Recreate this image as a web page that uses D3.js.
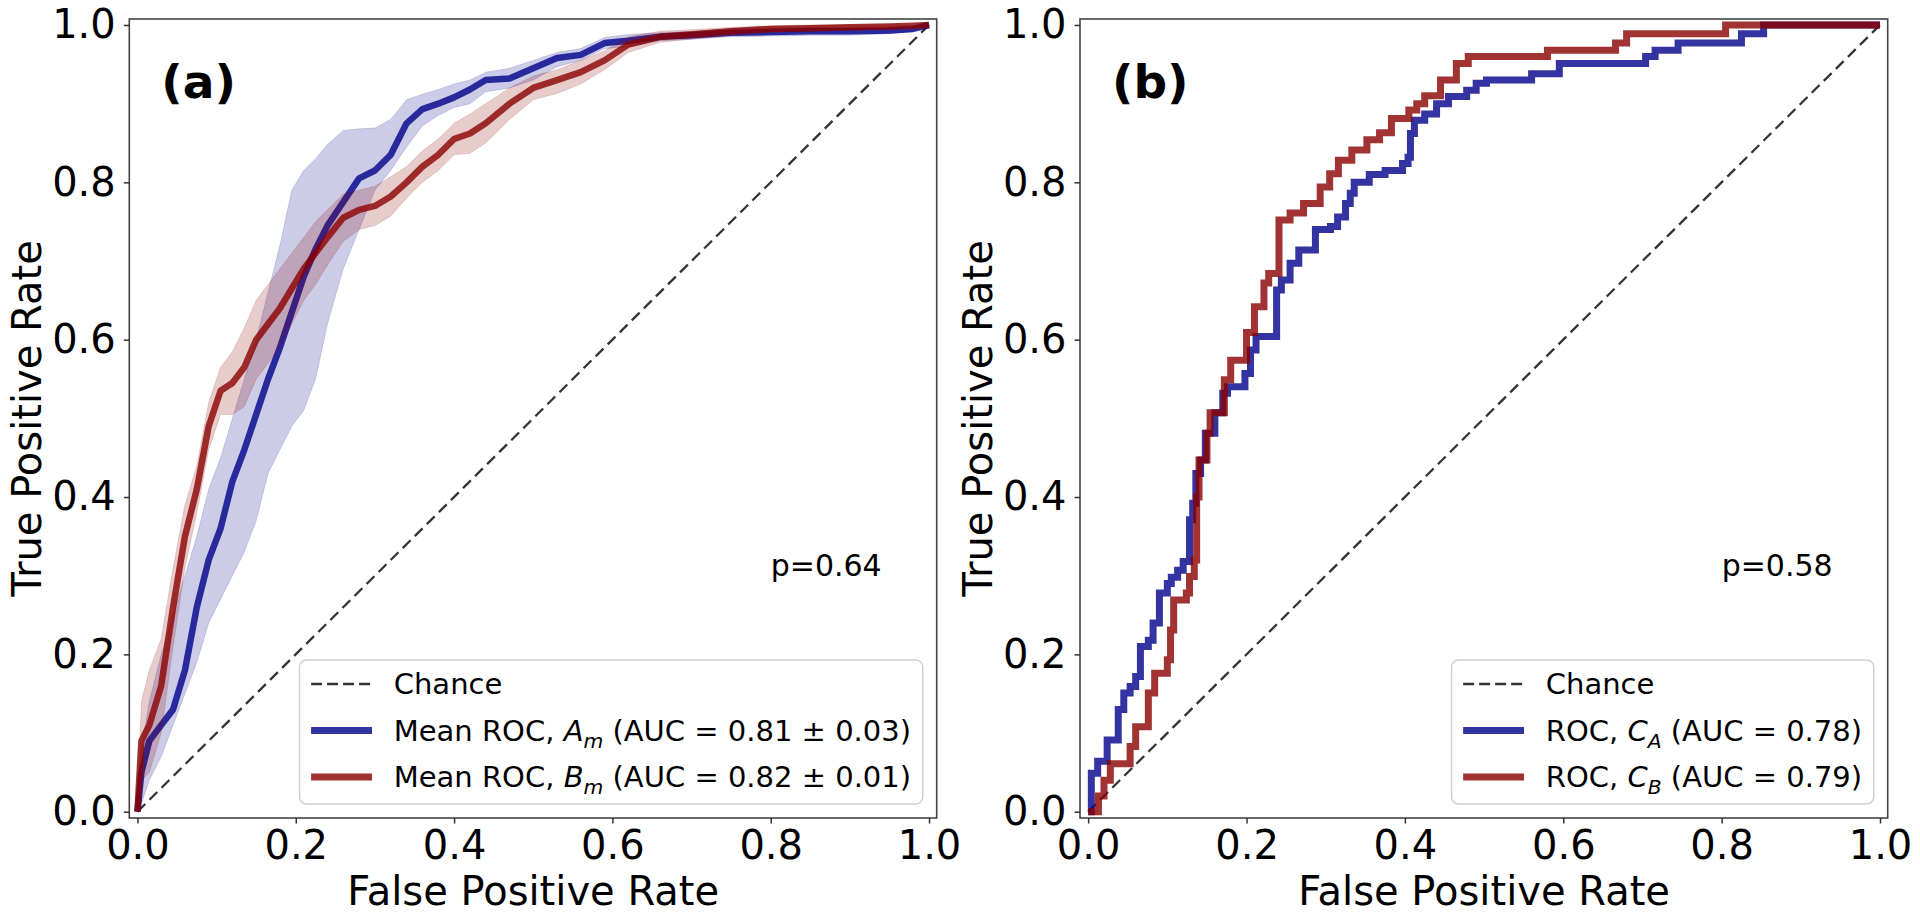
<!DOCTYPE html>
<html><head><meta charset="utf-8">
<script src="https://cdn.jsdelivr.net/npm/d3@7"></script>
<style>
body{margin:0;background:#fff}
svg{display:block}
text{font-family:"DejaVu Sans",sans-serif;fill:#000}
</style>
</head><body>
<svg id="chart" width="1920" height="920"></svg>
<script>
// ---------- data: panel (a), mean ROC curves with ±1 std bands ----------
const fprGrid = [0,0.005,0.015,0.03,0.045,0.06,0.075,0.09,0.105,0.12,0.135,0.15,0.165,0.18,0.195,0.21,0.225,0.24,0.26,0.28,0.3,0.32,0.34,0.36,0.38,0.4,0.42,0.44,0.47,0.5,0.53,0.56,0.59,0.62,0.66,0.7,0.75,0.8,0.85,0.9,0.95,0.98,1.0];
const meanA = [0,0.05,0.09,0.11,0.13,0.18,0.26,0.32,0.36,0.42,0.46,0.505,0.55,0.59,0.635,0.68,0.715,0.745,0.775,0.805,0.815,0.835,0.875,0.893,0.9,0.908,0.918,0.93,0.932,0.945,0.958,0.962,0.977,0.98,0.985,0.987,0.99,0.991,0.992,0.992,0.993,0.995,1.0];
const upperA = [0,0.08,0.14,0.2,0.25,0.30,0.35,0.41,0.45,0.50,0.55,0.60,0.66,0.72,0.79,0.815,0.83,0.848,0.866,0.868,0.869,0.88,0.905,0.912,0.918,0.925,0.93,0.94,0.945,0.955,0.965,0.97,0.984,0.988,0.99,0.992,0.995,0.996,0.997,0.997,0.997,0.998,1.0];
const lowerA = [0,0.01,0.04,0.07,0.11,0.15,0.19,0.24,0.27,0.30,0.33,0.37,0.43,0.46,0.49,0.51,0.55,0.62,0.69,0.74,0.79,0.815,0.845,0.872,0.885,0.895,0.9,0.915,0.92,0.93,0.947,0.955,0.97,0.972,0.98,0.982,0.985,0.986,0.987,0.987,0.989,0.992,1.0];
const meanB = [0,0.09,0.11,0.16,0.26,0.35,0.41,0.49,0.535,0.545,0.565,0.60,0.62,0.64,0.665,0.69,0.71,0.73,0.755,0.765,0.77,0.782,0.80,0.82,0.835,0.855,0.862,0.875,0.9,0.92,0.93,0.94,0.955,0.975,0.985,0.988,0.992,0.995,0.996,0.997,0.998,0.999,1.0];
const upperB = [0,0.14,0.18,0.22,0.31,0.39,0.44,0.52,0.565,0.585,0.615,0.65,0.67,0.69,0.71,0.73,0.75,0.765,0.785,0.79,0.795,0.807,0.82,0.84,0.855,0.875,0.887,0.9,0.92,0.935,0.943,0.955,0.967,0.985,0.992,0.994,0.997,0.999,1,1,1,1,1.0];
const lowerB = [0,0.04,0.05,0.10,0.21,0.31,0.38,0.46,0.505,0.505,0.515,0.55,0.57,0.59,0.62,0.65,0.67,0.695,0.725,0.74,0.745,0.757,0.78,0.80,0.815,0.835,0.837,0.85,0.88,0.905,0.913,0.925,0.943,0.965,0.978,0.982,0.987,0.991,0.992,0.994,0.996,0.998,1.0];

// ---------- data: panel (b), single ROC step curves (fpr where tpr rises, tpr after rise) ----------
const rocA_fpr = [0,0.004,0.012,0.024,0.038,0.045,0.053,0.06,0.066,0.076,0.082,0.09,0.1,0.105,0.113,0.12,0.128,0.132,0.136,0.142,0.148,0.16,0.17,0.176,0.198,0.205,0.212,0.238,0.244,0.255,0.266,0.287,0.306,0.315,0.325,0.331,0.336,0.355,0.375,0.397,0.404,0.407,0.412,0.425,0.44,0.455,0.478,0.49,0.503,0.56,0.595,0.704,0.716,0.745,0.825,0.853,1.0];
const rocA_tpr = [0,0.049,0.064,0.091,0.13,0.151,0.159,0.172,0.21,0.218,0.24,0.278,0.29,0.298,0.307,0.318,0.371,0.392,0.43,0.447,0.481,0.507,0.532,0.54,0.557,0.587,0.604,0.663,0.676,0.697,0.714,0.74,0.744,0.756,0.773,0.786,0.80,0.81,0.815,0.824,0.832,0.862,0.879,0.887,0.9,0.909,0.917,0.926,0.93,0.938,0.951,0.96,0.968,0.977,0.989,1.0,1.0];
const rocB_fpr = [0,0.013,0.02,0.028,0.053,0.06,0.076,0.084,0.1,0.104,0.108,0.124,0.128,0.134,0.137,0.14,0.15,0.154,0.172,0.18,0.2,0.21,0.222,0.228,0.241,0.255,0.272,0.293,0.305,0.316,0.333,0.352,0.368,0.383,0.405,0.415,0.425,0.445,0.465,0.48,0.58,0.666,0.68,0.805,1.0];
const rocB_tpr = [0,0.02,0.04,0.061,0.083,0.108,0.151,0.176,0.193,0.231,0.269,0.278,0.299,0.32,0.4,0.447,0.481,0.507,0.549,0.574,0.609,0.642,0.672,0.684,0.752,0.761,0.773,0.794,0.811,0.828,0.841,0.854,0.863,0.881,0.892,0.9,0.91,0.93,0.951,0.96,0.968,0.977,0.989,1.0,1.0];

// ---------- axes / labels ----------
const tickValues = [0,0.2,0.4,0.6,0.8,1.0];
const tickLabels = ["0.0","0.2","0.4","0.6","0.8","1.0"];
const xTitle = "False Positive Rate";
const yTitle = "True Positive Rate";
const panelTags = ["(a)","(b)"];
const pValues = ["p=0.64","p=0.58"];
const legendA = [
  {kind:"dash", parts:[["Chance"]]},
  {kind:"A", parts:[["Mean ROC, "],["A","i"],["m","s"],[" (AUC = 0.81 ± 0.03)"]]},
  {kind:"B", parts:[["Mean ROC, "],["B","i"],["m","s"],[" (AUC = 0.82 ± 0.01)"]]}
];
const legendB = [
  {kind:"dash", parts:[["Chance"]]},
  {kind:"A", parts:[["ROC, "],["C","i"],["A","s"],[" (AUC = 0.78)"]]},
  {kind:"B", parts:[["ROC, "],["C","i"],["B","s"],[" (AUC = 0.79)"]]}
];

const BLUE = "#00008b", RED = "#8b0000";
const svg = d3.select("#chart");
const TOP = 19, BOTTOM = 818;
const FS_TICK = 40, FS_LABEL = 40, FS_LEG = 29;

function drawPanel(L, R, idx, drawData, legendItems) {
  const g = svg.append("g");
  const x = d3.scaleLinear().domain([-0.0103, 1.0097]).range([L, R]);
  const y = d3.scaleLinear().domain([-0.008, 1.0076]).range([BOTTOM, TOP]);

  // chance line
  g.append("line")
    .attr("x1", x(0)).attr("y1", y(0)).attr("x2", x(1)).attr("y2", y(1))
    .attr("stroke", "#000").attr("stroke-opacity", 0.8)
    .attr("stroke-width", 2.3).attr("stroke-dasharray", "11,6");

  drawData(g, x, y);

  // frame
  g.append("rect").attr("x", L).attr("y", TOP).attr("width", R - L).attr("height", BOTTOM - TOP)
    .attr("fill", "none").attr("stroke", "#444").attr("stroke-width", 1.6);

  // axes
  const xa = g.append("g").attr("transform", `translate(0,${BOTTOM})`)
    .call(d3.axisBottom(x).tickValues(tickValues).tickFormat((d,i)=>tickLabels[i]).tickSize(5.5).tickPadding(7));
  const ya = g.append("g").attr("transform", `translate(${L},0)`)
    .call(d3.axisLeft(y).tickValues(tickValues).tickFormat((d,i)=>tickLabels[i]).tickSize(5.5).tickPadding(8));
  [xa, ya].forEach(a => {
    a.select(".domain").remove();
    a.selectAll(".tick line").attr("stroke", "#333").attr("stroke-width", 1.5);
    a.selectAll(".tick text").attr("font-size", FS_TICK).attr("font-family", '"DejaVu Sans"').attr("fill", "#000");
  });

  // axis titles
  g.append("text").attr("x", (x(0) + x(1)) / 2).attr("y", 905)
    .attr("text-anchor", "middle").attr("font-size", FS_LABEL).text(xTitle);
  g.append("text").attr("transform", `translate(${L - 88},${(y(0) + y(1)) / 2}) rotate(-90)`)
    .attr("text-anchor", "middle").attr("font-size", FS_LABEL).text(yTitle);

  // panel tag
  g.append("text").attr("x", x(0.03)).attr("y", 98)
    .attr("font-family", '"Liberation Sans",Arial,sans-serif').attr("font-weight", "bold")
    .attr("font-size", 47).text(panelTags[idx]);

  // p-value
  g.append("text").attr("x", x(0.8)).attr("y", y(0.3)).attr("font-size", 30).text(pValues[idx]);

  // legend
  const lg = g.append("g");
  const rowH = 46.5, pad = 0.4 * FS_LEG, handleLen = 2.1 * FS_LEG, gap = 0.75 * FS_LEG;
  const texts = legendItems.map((it, i) => {
    const t = lg.append("text").attr("font-size", FS_LEG).attr("dy", "0.36em");
    it.parts.forEach(p => {
      if (p[1] === "i") t.append("tspan").attr("font-style", "italic").text(p[0]);
      else if (p[1] === "s") t.append("tspan").attr("font-style", "italic").attr("font-size", FS_LEG * 0.7).attr("dy", 7).text(p[0]);
      else {
        const ts = t.append("tspan").text(p[0]);
        if (t.selectAll("tspan").size() > 1 && legendItems[i].parts.some(q => q[1] === "s")) ts.attr("dy", -7);
      }
    });
    return t;
  });
  const textW = d3.max(texts, t => t.node().getComputedTextLength());
  const boxW = pad + handleLen + gap + textW + pad;
  const boxH = 144;
  const bx = R - 0.5 * 28 - boxW, by = BOTTOM - 0.5 * 28 - boxH;
  lg.insert("rect", ":first-child").attr("x", bx).attr("y", by).attr("width", boxW).attr("height", boxH)
    .attr("rx", 7).attr("fill", "#fff").attr("fill-opacity", 0.8).attr("stroke", "#d0d0d0").attr("stroke-width", 1.5);
  legendItems.forEach((it, i) => {
    const cy = by + 24 + i * rowH;
    const hx = bx + pad;
    if (it.kind === "dash") {
      lg.append("line").attr("x1", hx).attr("x2", hx + handleLen).attr("y1", cy).attr("y2", cy)
        .attr("stroke", "#000").attr("stroke-opacity", 0.8).attr("stroke-width", 2.3).attr("stroke-dasharray", "11,5");
    } else {
      lg.append("line").attr("x1", hx).attr("x2", hx + handleLen).attr("y1", cy).attr("y2", cy)
        .attr("stroke", it.kind === "A" ? BLUE : RED).attr("stroke-opacity", 0.8).attr("stroke-width", 7);
    }
    texts[i].attr("x", hx + handleLen + gap).attr("y", cy);
  });
}

// panel (a)
drawPanel(129.3, 936.7, 0, (g, x, y) => {
  const area = (lo, hi) => d3.area().x((d, i) => x(fprGrid[i])).y0((d, i) => y(lo[i])).y1((d, i) => y(hi[i]));
  const line = arr => d3.line().x((d, i) => x(fprGrid[i])).y((d, i) => y(arr[i]));
  g.append("path").datum(fprGrid).attr("d", area(lowerA, upperA))
    .attr("fill", BLUE).attr("fill-opacity", 0.2).attr("stroke", BLUE).attr("stroke-opacity", 0.15).attr("stroke-width", 1);
  g.append("path").datum(fprGrid).attr("d", line(meanA))
    .attr("fill", "none").attr("stroke", BLUE).attr("stroke-opacity", 0.8).attr("stroke-width", 6.5).attr("stroke-linejoin", "round");
  g.append("path").datum(fprGrid).attr("d", area(lowerB, upperB))
    .attr("fill", RED).attr("fill-opacity", 0.2).attr("stroke", RED).attr("stroke-opacity", 0.15).attr("stroke-width", 1);
  g.append("path").datum(fprGrid).attr("d", line(meanB))
    .attr("fill", "none").attr("stroke", RED).attr("stroke-opacity", 0.8).attr("stroke-width", 6.5).attr("stroke-linejoin", "round");
}, legendA);

// panel (b)
drawPanel(1080, 1887.7, 1, (g, x, y) => {
  const step = (fx, ty) => d3.line().curve(d3.curveStepAfter).x((d, i) => x(fx[i])).y((d, i) => y(ty[i]));
  g.append("path").datum(rocA_fpr).attr("d", step(rocA_fpr, rocA_tpr))
    .attr("fill", "none").attr("stroke", BLUE).attr("stroke-opacity", 0.8).attr("stroke-width", 7);
  g.append("path").datum(rocB_fpr).attr("d", step(rocB_fpr, rocB_tpr))
    .attr("fill", "none").attr("stroke", RED).attr("stroke-opacity", 0.8).attr("stroke-width", 7);
}, legendB);
</script>
</body></html>
